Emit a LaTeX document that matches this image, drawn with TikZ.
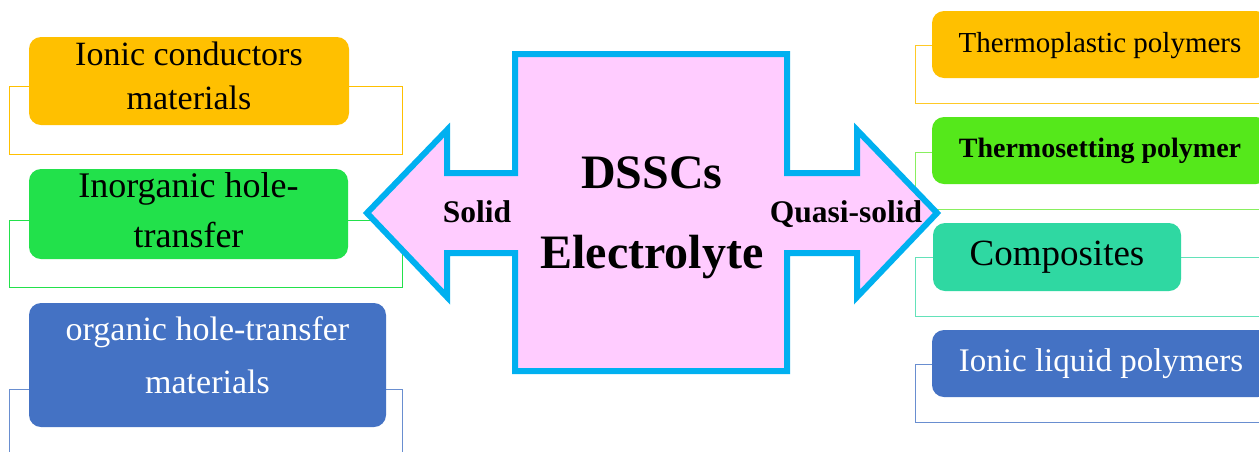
\documentclass[tikz,border=0pt]{standalone}
\usepackage{fontspec}
\setmainfont{Liberation Serif}
\definecolor{cOrange}{HTML}{FFC000}
\definecolor{cGreenL}{HTML}{22E14B}
\definecolor{cBlue}{HTML}{4472C4}
\definecolor{cGreenR}{HTML}{55E81B}
\definecolor{cTeal}{HTML}{2FD8A2}
\definecolor{cPink}{HTML}{FFCCFF}
\definecolor{cCyan}{HTML}{00B0F0}
\tikzset{
  catbox/.style={rounded corners=12pt, inner sep=0pt, align=center, anchor=center},
  bracket/.style={line width=1pt},
  hub/.style={draw=cCyan, fill=cPink, line width=6pt, miter limit=10},
  tag/.style={inner sep=0pt, anchor=base, font=\bfseries\fontsize{31.5}{36}\selectfont}
}
\begin{document}
\begin{tikzpicture}[x=1pt,y=-1pt]
\useasboundingbox (0,0) rectangle (1259,451);
\fill[white] (0,0) rectangle (1259,451);
\clip (0,0) rectangle (1259,451);

% brackets behind the boxes
\draw[bracket, cOrange] (9.5,86) rectangle (402,154);
\draw[bracket, cGreenL] (9.5,220) rectangle (402,287);
\draw[bracket, cBlue!80] (9.5,389) rectangle (402,470);
\draw[bracket, cOrange!85] (915,45) rectangle (1280,103);
\draw[bracket, cGreenR!70] (915,152) rectangle (1280,209);
\draw[bracket, cTeal!75] (915,257) rectangle (1280,316);
\draw[bracket, cBlue!80] (915,364) rectangle (1280,422);

% left boxes
\node[catbox, fill=cOrange, minimum width=320pt, minimum height=88pt,
      font=\fontsize{34}{44}\selectfont] (L1) at (189,81)
  {\rule{0pt}{23.4pt}Ionic conductors\\materials\rule[-10pt]{0pt}{10pt}};
\node[catbox, fill=cGreenL, minimum width=319pt, minimum height=90pt,
      font=\fontsize{36}{50}\selectfont] (L2) at (188.5,214)
  {\rule{0pt}{26pt}Inorganic hole-\\transfer\rule[-10pt]{0pt}{10pt}};
\node[catbox, fill=cBlue, text=white, minimum width=357pt, minimum height=124pt,
      font=\fontsize{34}{53}\selectfont] (L3) at (207.5,365)
  {\rule{0pt}{24pt}organic hole-transfer\\materials\rule[-21pt]{0pt}{21pt}};

% right boxes
\node[catbox, fill=cOrange, minimum width=336pt, minimum height=67pt,
      text height=22pt, text depth=7pt, font=\fontsize{29}{34}\selectfont] (R1) at (1100,44.5)
  {Thermoplastic polymers};
\node[catbox, fill=cGreenR, minimum width=336pt, minimum height=67pt,
      text height=21pt, text depth=8pt, font=\bfseries\fontsize{28}{32}\selectfont] (R2) at (1100,150.5)
  {Thermosetting polymer};
\node[catbox, fill=cTeal, minimum width=248pt, minimum height=68pt,
      text height=26pt, text depth=10pt, font=\fontsize{37}{42}\selectfont] (R3) at (1057,257)
  {Composites};
\node[catbox, fill=cBlue, text=white, minimum width=338pt, minimum height=67pt,
      text height=23pt, text depth=8pt, font=\fontsize{33}{38}\selectfont] (R4) at (1101,363.5)
  {Ionic liquid polymers};

% central double arrow
\draw[hub] (515,54) -- (787,54) -- (787,173) -- (857,173) -- (857,130) -- (937,213)
  -- (857,297) -- (857,253) -- (787,253) -- (787,371) -- (515,371) -- (515,253)
  -- (447,253) -- (447,297) -- (367,213) -- (447,130) -- (447,173) -- (515,173) -- cycle;

\node[inner sep=0pt, align=center, font=\bfseries\fontsize{48}{80}\selectfont] (title) at (652,217)
  {\rule{0pt}{34pt}DSSCs\\Electrolyte\rule[-12pt]{0pt}{12pt}};
\node[tag] (solid) at (477,222) {Solid};
\node[tag] (quasi) at (846,222) {Quasi-solid};
\end{tikzpicture}
\end{document}
